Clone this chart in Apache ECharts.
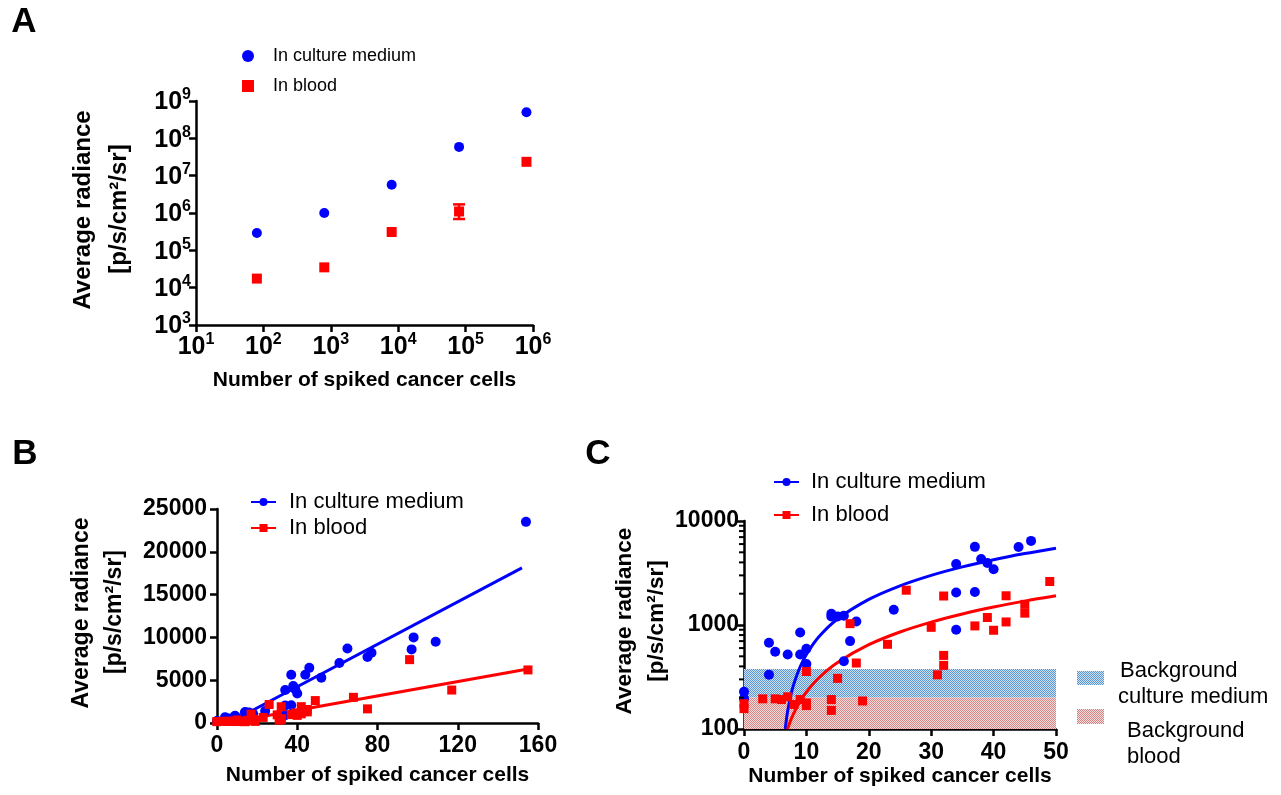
<!DOCTYPE html>
<html><head><meta charset="utf-8">
<script src="https://cdn.jsdelivr.net/npm/echarts/dist/echarts.min.js"></script>
<style>html,body{margin:0;padding:0;background:#fff}#c{width:1281px;height:795px}</style>
</head><body><div id="c"></div>
<script>
// ---------- Panel A (log-log) ----------
const aCells = [80, 800, 8000, 80000, 800000];
const aCulture = [2.9e5, 1.0e6, 5.7e6, 5.9e7, 5.0e8];
const aBlood = [1.75e4, 3.5e4, 3.1e5, 1.1e6, 2.35e7];
const aBloodErrLow = [null, null, null, 6.9e5, null];
const aBloodErrHigh = [null, null, null, 1.7e6, null];

// ---------- Panels B & C (same measurements; C shows cells <= 50) ----------
const cultureCells = [0,0,4,4,5,7,9,9,10,10,14,14,15,16,16,17,18,24,34,34,34,37,37,38,39,40,44,46,52,61,65,75,77,97,98,109,154];
const cultureRad = [228,196,676,332,553,521,847,521,590,421,1280,1210,1210,1230,448,700,1080,1400,3860,2050,900,5640,2080,4310,3950,3440,5630,6440,5300,7000,8700,7700,8200,8600,10000,9500,23500];
const bloodCells = [0,0,3,5,6,7,8,9,10,10,10,14,14,15,17,18,19,23,26,30,31,32,32,32,37,39,40,42,42,45,45,49,68,75,96,117,155];
const bloodRad = [175,157,195,195,192,204,172,192,357,178,168,192,151,307,1030,431,186,652,2160,950,332,1900,510,409,980,1180,890,1070,1910,1580,1300,2620,3000,1650,7400,3850,6200];

// fitted lines
const bCultureFitX = [5.8, 152];
const bCultureFitY = [0, 18130];
const bBloodFitX = [4.6, 155];
const bBloodFitY = [0, 6317];
const cCultureFitX = [6.61, 6.8, 7, 7.5, 8, 9, 10, 12, 15, 20, 25, 30, 35, 40, 45, 50];
const cCultureFitY = [100, 124, 149, 211, 273, 397, 521, 769, 1141, 1761, 2381, 3001, 3621, 4241, 4861, 5481];
const cBloodFitX = [6.98, 7.2, 7.5, 8, 9, 10, 12, 15, 20, 25, 30, 35, 40, 45, 50];
const cBloodFitY = [100, 109, 122, 143, 185, 227, 311, 437, 647, 857, 1067, 1277, 1487, 1697, 1907];

// background bands (panel C)
const bgCulture = [201, 378];
const bgBlood = [100, 201];
const cMinorTicks = [200,300,400,500,600,700,800,900,2000,3000,4000,5000,6000,7000,8000,9000];

const F = 'Liberation Sans, Arial, sans-serif';
const BLUE = '#0000ff', RED = '#ff0000';
const zip = (xs, ys) => xs.map((x, i) => [x, ys[i]]);
const cZip = (xs, ys, maxX) => xs.map((x, i) => [x, ys[i]]).filter(p => p[0] <= maxX);

function pattern(light, dark) {
  const cv = document.createElement('canvas');
  cv.width = 2; cv.height = 2;
  const ctx = cv.getContext('2d');
  ctx.fillStyle = light; ctx.fillRect(0, 0, 2, 2);
  ctx.fillStyle = dark; ctx.fillRect(0, 0, 1, 1); ctx.fillRect(1, 1, 1, 1);
  return cv;
}
const bluePat = pattern('#cfe3f6', '#5b95d0');
const pinkPat = pattern('#f6dddd', '#d48686');

const axLine = { lineStyle: { color: '#000', width: 2.5 } };
const axTick = { show: true, inside: false, length: 7, lineStyle: { color: '#000', width: 2.5 } };
const supLabel = (margin) => ({
  margin: margin,
  formatter: v => '{b|10}{s|' + Math.round(Math.log10(v)) + '}',
  rich: {
    b: { fontSize: 25, fontWeight: 'bold', fontFamily: F, color: '#000', lineHeight: 28, verticalAlign: 'bottom' },
    s: { fontSize: 16, fontWeight: 'bold', fontFamily: F, color: '#000', lineHeight: 12, verticalAlign: 'top' }
  }
});
const numLabel = (size, margin) => ({ margin: margin, fontSize: size, fontWeight: 'bold', fontFamily: F, color: '#000',
  formatter: v => String(v) });
const xName = { fontSize: 21, fontWeight: 'bold', fontFamily: F, color: '#000' };
const legendFmt = n => n.split('|')[1];
const solid = c => ({ color: c, opacity: 1 });

const chart = echarts.init(document.getElementById('c'), null, { renderer: 'canvas' });

const option = {
  animation: false,
  backgroundColor: '#fff',
  grid: [
    { left: 196, top: 101, width: 337, height: 224 },
    { left: 217, top: 509, width: 321, height: 214 },
    { left: 744, top: 521, width: 312, height: 208 }
  ],
  xAxis: [
    { gridIndex: 0, type: 'log', logBase: 10, min: 10, max: 1e6, splitNumber: 5,
      axisLine: axLine, axisTick: axTick, splitLine: { show: false }, axisLabel: supLabel(7),
      name: 'Number of spiked cancer cells', nameLocation: 'middle', nameGap: 45, nameTextStyle: xName },
    { gridIndex: 1, type: 'value', min: 0, max: 160, interval: 40,
      axisLine: axLine, axisTick: axTick, splitLine: { show: false }, axisLabel: numLabel(23, 11),
      name: 'Number of spiked cancer cells', nameLocation: 'middle', nameGap: 42, nameTextStyle: xName },
    { gridIndex: 2, type: 'value', min: 0, max: 50, interval: 10,
      axisLine: axLine, axisTick: axTick, splitLine: { show: false }, axisLabel: numLabel(23, 12),
      name: 'Number of spiked cancer cells', nameLocation: 'middle', nameGap: 37, nameTextStyle: xName }
  ],
  yAxis: [
    { gridIndex: 0, type: 'log', logBase: 10, min: 1e3, max: 1e9, splitNumber: 6,
      axisLine: axLine, axisTick: axTick, splitLine: { show: false }, axisLabel: supLabel(5) },
    { gridIndex: 1, type: 'value', min: 0, max: 25000, interval: 5000,
      axisLine: axLine, axisTick: axTick, splitLine: { show: false }, axisLabel: numLabel(23, 10) },
    { gridIndex: 2, type: 'log', logBase: 10, min: 100, max: 10000, splitNumber: 2,
      axisLine: axLine, axisTick: axTick, splitLine: { show: false }, axisLabel: numLabel(23, 5) }
  ],
  legend: [
    { orient: 'vertical', left: 242, top: 46, padding: 0, itemWidth: 12, itemHeight: 12, itemGap: 10,
      data: ['A|In culture medium', 'A|In blood'], formatter: legendFmt, selectedMode: false,
      textStyle: { fontSize: 18, fontFamily: F, color: '#000', lineHeight: 20, padding: [0, 0, 0, 14] } },
    { orient: 'vertical', left: 250, top: 491, padding: 0, itemWidth: 25, itemHeight: 10, itemGap: 4,
      data: ['B|In culture medium', 'B|In blood'], formatter: legendFmt, selectedMode: false,
      textStyle: { fontSize: 22, fontFamily: F, color: '#000', lineHeight: 22, padding: [0, 0, 0, 8] } },
    { orient: 'vertical', left: 773, top: 471, padding: 0, itemWidth: 25, itemHeight: 10, itemGap: 11,
      data: ['C|In culture medium', 'C|In blood'], formatter: legendFmt, selectedMode: false,
      textStyle: { fontSize: 22, fontFamily: F, color: '#000', lineHeight: 22, padding: [0, 0, 0, 7] } }
  ],
  series: [
    // ---- A ----
    { name: 'A|In culture medium', type: 'scatter', xAxisIndex: 0, yAxisIndex: 0, symbol: 'circle', symbolSize: 10,
      itemStyle: solid(BLUE), data: zip(aCells, aCulture) },
    { name: 'A|In blood', type: 'scatter', xAxisIndex: 0, yAxisIndex: 0, symbol: 'rect', symbolSize: 10,
      itemStyle: solid(RED), data: zip(aCells, aBlood) },
    { name: 'A|err', type: 'custom', xAxisIndex: 0, yAxisIndex: 0,
      data: aCells.map((x, i) => [x, aBloodErrLow[i], aBloodErrHigh[i]]).filter(d => d[1] != null),
      encode: { x: 0, y: [1, 2] },
      renderItem: (params, api) => {
        const x = api.value(0);
        const lo = api.coord([x, api.value(1)]);
        const hi = api.coord([x, api.value(2)]);
        const w = 6, st = { stroke: RED, lineWidth: 2.5 };
        return { type: 'group', children: [
          { type: 'line', shape: { x1: hi[0], y1: hi[1], x2: lo[0], y2: lo[1] }, style: st },
          { type: 'line', shape: { x1: hi[0] - w, y1: hi[1], x2: hi[0] + w, y2: hi[1] }, style: st },
          { type: 'line', shape: { x1: lo[0] - w, y1: lo[1], x2: lo[0] + w, y2: lo[1] }, style: st }
        ] };
      } },
    // ---- B ----
    { name: 'B|In culture medium', type: 'line', xAxisIndex: 1, yAxisIndex: 1, symbol: 'circle', showSymbol: false,
      lineStyle: { color: BLUE, width: 3 }, itemStyle: solid(BLUE), data: zip(bCultureFitX, bCultureFitY), z: 2 },
    { name: 'B|In blood', type: 'line', xAxisIndex: 1, yAxisIndex: 1, symbol: 'rect', showSymbol: false,
      lineStyle: { color: RED, width: 3 }, itemStyle: solid(RED), data: zip(bBloodFitX, bBloodFitY), z: 2 },
    { name: 'B|culture pts', type: 'scatter', xAxisIndex: 1, yAxisIndex: 1, symbol: 'circle', symbolSize: 10,
      itemStyle: solid(BLUE), data: zip(cultureCells, cultureRad), z: 3 },
    { name: 'B|blood pts', type: 'scatter', xAxisIndex: 1, yAxisIndex: 1, symbol: 'rect', symbolSize: 9,
      itemStyle: solid(RED), data: zip(bloodCells, bloodRad), z: 3 },
    // ---- C ----
    { name: 'C|bands', type: 'scatter', xAxisIndex: 2, yAxisIndex: 2, data: [], z: 1,
      markArea: { silent: true, itemStyle: { borderWidth: 0, opacity: 1 },
        data: [
          [{ yAxis: bgCulture[0], itemStyle: { color: { image: bluePat, repeat: 'repeat' } } }, { yAxis: bgCulture[1] }],
          [{ yAxis: bgBlood[0], itemStyle: { color: { image: pinkPat, repeat: 'repeat' } } }, { yAxis: bgBlood[1] }]
        ] } },
    { name: 'C|In culture medium', type: 'line', xAxisIndex: 2, yAxisIndex: 2, symbol: 'circle', showSymbol: false,
      smooth: 0.3, clip: true, lineStyle: { color: BLUE, width: 3 }, itemStyle: solid(BLUE),
      data: zip(cCultureFitX, cCultureFitY), z: 4 },
    { name: 'C|In blood', type: 'line', xAxisIndex: 2, yAxisIndex: 2, symbol: 'rect', showSymbol: false,
      smooth: 0.3, clip: true, lineStyle: { color: RED, width: 3 }, itemStyle: solid(RED),
      data: zip(cBloodFitX, cBloodFitY), z: 4 },
    { name: 'C|culture pts', type: 'scatter', xAxisIndex: 2, yAxisIndex: 2, symbol: 'circle', symbolSize: 10,
      itemStyle: solid(BLUE), data: cZip(cultureCells, cultureRad, 50), z: 5 },
    { name: 'C|blood pts', type: 'scatter', xAxisIndex: 2, yAxisIndex: 2, symbol: 'rect', symbolSize: 9,
      itemStyle: solid(RED), data: cZip(bloodCells, bloodRad, 50), z: 5 },
    { name: 'C|minor', type: 'custom', xAxisIndex: 2, yAxisIndex: 2, clip: false,
      data: cMinorTicks.map(v => [0, v]),
      renderItem: (params, api) => {
        const p = api.coord([api.value(0), api.value(1)]);
        return { type: 'line', shape: { x1: p[0] - 5, y1: p[1], x2: p[0], y2: p[1] }, style: { stroke: '#000', lineWidth: 2 } };
      }, z: 6 }
  ],
  graphic: [
    { type: 'text', x: 24, y: 22, style: { text: 'A', fontSize: 35, fontWeight: 'bold', fontFamily: F, fill: '#000', align: 'center', verticalAlign: 'middle' } },
    { type: 'text', x: 25, y: 454, style: { text: 'B', fontSize: 35, fontWeight: 'bold', fontFamily: F, fill: '#000', align: 'center', verticalAlign: 'middle' } },
    { type: 'text', x: 598, y: 454, style: { text: 'C', fontSize: 35, fontWeight: 'bold', fontFamily: F, fill: '#000', align: 'center', verticalAlign: 'middle' } },
    // y titles
    { type: 'text', x: 83, y: 210, rotation: Math.PI / 2, style: { text: 'Average radiance', fontSize: 24, fontWeight: 'bold', fontFamily: F, fill: '#000', align: 'center', verticalAlign: 'middle' } },
    { type: 'text', x: 119, y: 209, rotation: Math.PI / 2, style: { text: '[p/s/cm²/sr]', fontSize: 24, fontWeight: 'bold', fontFamily: F, fill: '#000', align: 'center', verticalAlign: 'middle' } },
    { type: 'text', x: 82, y: 613, rotation: Math.PI / 2, style: { text: 'Average radiance', fontSize: 23, fontWeight: 'bold', fontFamily: F, fill: '#000', align: 'center', verticalAlign: 'middle' } },
    { type: 'text', x: 115, y: 612, rotation: Math.PI / 2, style: { text: '[p/s/cm²/sr]', fontSize: 23, fontWeight: 'bold', fontFamily: F, fill: '#000', align: 'center', verticalAlign: 'middle' } },
    { type: 'text', x: 625, y: 621, rotation: Math.PI / 2, style: { text: 'Average radiance', fontSize: 22.5, fontWeight: 'bold', fontFamily: F, fill: '#000', align: 'center', verticalAlign: 'middle' } },
    { type: 'text', x: 657, y: 621, rotation: Math.PI / 2, style: { text: '[p/s/cm²/sr]', fontSize: 22.5, fontWeight: 'bold', fontFamily: F, fill: '#000', align: 'center', verticalAlign: 'middle' } },
    // background legend (C)
    { type: 'rect', shape: { x: 1077, y: 671, width: 27, height: 14 }, style: { fill: { image: bluePat, repeat: 'repeat' } } },
    { type: 'rect', shape: { x: 1077, y: 709, width: 27, height: 15 }, style: { fill: { image: pinkPat, repeat: 'repeat' } } },
    { type: 'text', x: 1120, y: 671, style: { text: 'Background', fontSize: 22, fontFamily: F, fill: '#000', align: 'left', verticalAlign: 'middle' } },
    { type: 'text', x: 1118, y: 697, style: { text: 'culture medium', fontSize: 22, fontFamily: F, fill: '#000', align: 'left', verticalAlign: 'middle' } },
    { type: 'text', x: 1127, y: 731, style: { text: 'Background', fontSize: 22, fontFamily: F, fill: '#000', align: 'left', verticalAlign: 'middle' } },
    { type: 'text', x: 1127, y: 757, style: { text: 'blood', fontSize: 22, fontFamily: F, fill: '#000', align: 'left', verticalAlign: 'middle' } }
  ]
};
chart.setOption(option);
</script>
</body></html>
